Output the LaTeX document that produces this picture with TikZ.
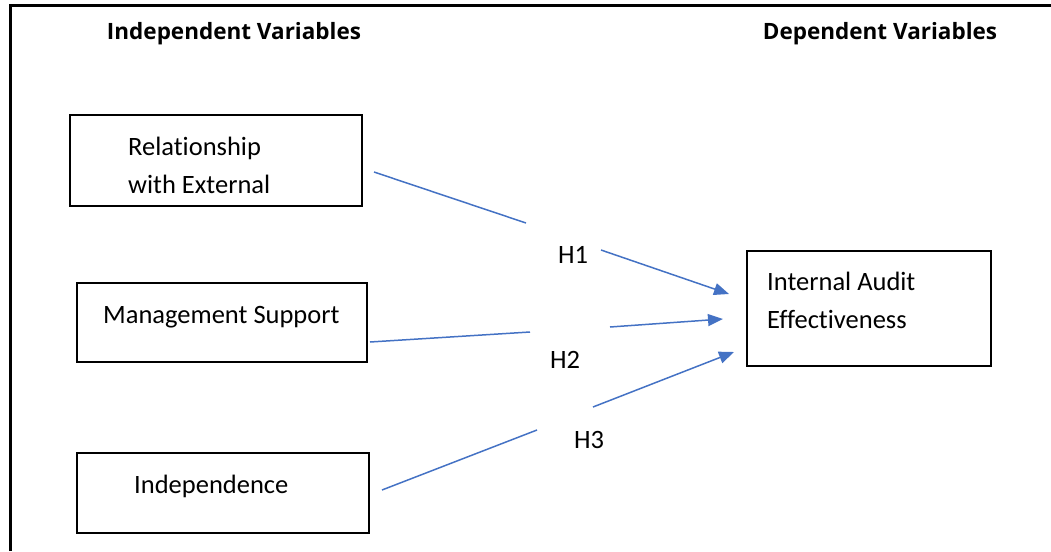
\documentclass[tikz,border=0pt]{standalone}
\usepackage{fontspec}
\setmainfont{Carlito}[Ligatures={NoCommon}]
\newfontfamily\headfont{Open Sans}
\usetikzlibrary{arrows.meta}
\definecolor{linkblue}{HTML}{4472C4}
\begin{document}
\begin{tikzpicture}[x=1pt,y=-1pt,
  box/.style={draw=black,line width=1.8pt,inner sep=0pt,outer sep=0pt,anchor=north west},
  lbl/.style={inner sep=0pt,anchor=base west,font=\fontsize{26.5}{32}\selectfont},
  head/.style={inner sep=0pt,anchor=base,font=\headfont\bfseries\fontsize{22.5}{26}\selectfont},
  link/.style={draw=linkblue,line width=1.5pt},
  arr/.style={link,-{Triangle[length=15pt,width=12pt]}}]
\useasboundingbox (0,0) rectangle (1051,551);
% outer frame (left and top edges only)
\draw[line width=3pt] (10,551) -- (10,6) -- (1051,6);
% headings
\node[head] (hIV) at (234,40) {Independent Variables};
\node[head] (hDV) at (880,40) {Dependent Variables};
% boxes
\node[box,minimum width=292pt,minimum height=91pt] (b1) at (70,115) {};
\node[box,minimum width=290pt,minimum height=79pt] (b2) at (77,283) {};
\node[box,minimum width=292pt,minimum height=80pt] (b3) at (77,453) {};
\node[box,minimum width=244pt,minimum height=115pt] (b4) at (747,251) {};
% box texts
\node[lbl] (t1a) at (128,155) {Relationship};
\node[lbl] (t1b) at (128,193) {with External};
\node[lbl] (t2) at (103,323) {Management Support};
\node[lbl] (t3) at (134,493) {Independence};
\node[lbl] (t4a) at (767,290) {Internal Audit};
\node[lbl] (t4b) at (767,328) {Effectiveness};
% hypothesis labels
\node[lbl] (H1) at (558,263) {H1};
\node[lbl] (H2) at (550,368) {H2};
\node[lbl] (H3) at (574,448) {H3};
% connector end points
\coordinate (s1) at (374,172);
\coordinate (m1a) at (526,223);
\coordinate (m1b) at (601,250);
\coordinate (e1) at (729,294);
\coordinate (s2) at (370,342);
\coordinate (m2a) at (530,332);
\coordinate (m2b) at (610,327);
\coordinate (e2) at (723,319);
\coordinate (s3) at (382,490);
\coordinate (m3a) at (537,430);
\coordinate (m3b) at (593,407);
\coordinate (e3) at (734,352);
% connectors
\draw[link] (s1) -- (m1a);
\draw[arr] (m1b) -- (e1);
\draw[link] (s2) -- (m2a);
\draw[arr] (m2b) -- (e2);
\draw[link] (s3) -- (m3a);
\draw[arr] (m3b) -- (e3);
\end{tikzpicture}
\end{document}
